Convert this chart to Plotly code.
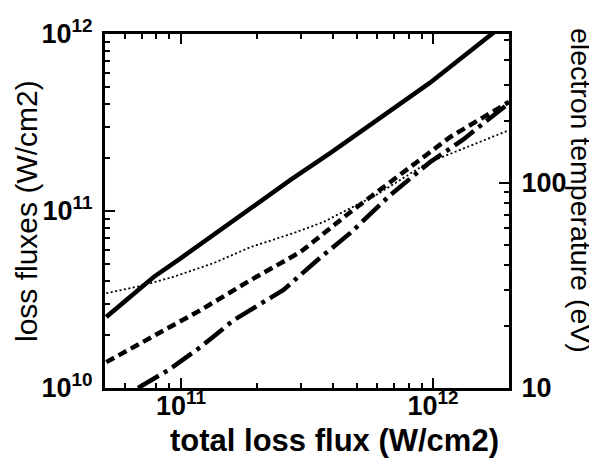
import plotly.graph_objects as go

# ---- data ----
x_solid = [5.06e10, 7.8e10, 1.0e11, 2.72e11, 3.92e11, 9.7e11, 1.8e12]
y_solid = [2.52e10, 4.24e10, 5.42e10, 1.5e11, 2.13e11, 5.29e11, 1.06e12]

x_sdash = [5.06e10, 7.6e10, 1.2e11, 1.89e11, 2.98e11, 4.7e11, 7.41e11, 1.17e12, 2.0e12]
y_sdash = [1.40e10, 1.94e10, 2.76e10, 4.07e10, 5.87e10, 9.86e10, 1.60e11, 2.62e11, 4.13e11]

x_ldash = [6.76e10, 8.9e10, 1.2e11, 1.62e11, 2.55e11, 3.48e11, 4.7e11, 6.76e11, 9.73e11, 1.31e12, 2.0e12]
y_ldash = [1.0e10, 1.26e10, 1.71e10, 2.42e10, 3.58e10, 5.29e10, 7.52e10, 1.23e11, 1.89e11, 2.52e11, 4.07e11]

x_te = [5.06e10, 6.95e10, 9.3e10, 1.17e11, 1.35e11, 1.89e11, 2.8e11, 3.67e11, 6.0e11, 9.46e11, 2.0e12]
y_te = [29.0, 31.5, 34.8, 38.5, 40.7, 48.7, 57.0, 64.5, 88.0, 125.0, 181.0]

x_ticks = [1e11, 1e12]
x_ticktext = ["10<sup>11</sup>", "10<sup>12</sup>"]
x_minor = [6e10, 7e10, 8e10, 9e10] + [k * 1e11 for k in range(2, 10)]

y_ticks = [1e10, 1e11, 1e12]
y_ticktext = ["10<sup>10</sup>", "10<sup>11</sup>", "10<sup>12</sup>"]
y_minor = [k * 1e10 for k in range(2, 10)] + [k * 1e11 for k in range(2, 10)]

y2_ticks = [10, 100]
y2_ticktext = ["10", "100"]
y2_minor = [k * 10 for k in range(2, 10)] + [k * 100 for k in range(2, 6)]

FONT = "Liberation Sans, Arial, Helvetica, sans-serif"

# page body has an 8px default margin: figure is drawn 8px right/down
OFF = 8
W, H = 597 - OFF, 462 - OFF
L, R, T, B = 105, 509, 34, 388  # plot area in page pixels
PW, PH = R - L, B - T

fig = go.Figure()
fig.add_trace(go.Scatter(x=x_solid, y=y_solid, mode="lines",
                         line=dict(color="black", width=4.5), showlegend=False))
fig.add_trace(go.Scatter(x=x_sdash, y=y_sdash, mode="lines",
                         line=dict(color="black", width=4.5, dash="9px,5px"), showlegend=False))
fig.add_trace(go.Scatter(x=x_ldash, y=y_ldash, mode="lines",
                         line=dict(color="black", width=4.5, dash="24px,6px,4px,6px"), showlegend=False))
fig.add_trace(go.Scatter(x=x_te, y=y_te, mode="lines", yaxis="y2",
                         line=dict(color="black", width=1.8, dash="2px,2.5px"), showlegend=False))

tickfont = dict(family=FONT, size=27, color="black", weight="bold")

fig.update_layout(
    width=W, height=H,
    margin=dict(l=L - OFF, r=597 - R, t=T - OFF, b=462 - B, pad=0),
    paper_bgcolor="white", plot_bgcolor="white",
    xaxis=dict(type="log", range=[10.69897, 12.30103], automargin=False,
               showline=True, linewidth=3, linecolor="black", mirror="ticks",
               ticks="inside", ticklen=10, tickwidth=2, tickcolor="black",
               tickvals=x_ticks, ticktext=x_ticktext, tickfont=tickfont,
               ticklabelstandoff=-8,
               showgrid=False, zeroline=False,
               minor=dict(tickvals=x_minor, ticks="inside", ticklen=5, tickwidth=2,
                          tickcolor="black", showgrid=False)),
    yaxis=dict(type="log", range=[10, 12], automargin=False,
               showline=True, linewidth=3, linecolor="black",
               ticks="inside", ticklen=10, tickwidth=2, tickcolor="black",
               tickvals=y_ticks, ticktext=y_ticktext, tickfont=tickfont,
               ticklabelstandoff=4,
               showgrid=False, zeroline=False,
               minor=dict(tickvals=y_minor, ticks="inside", ticklen=5, tickwidth=2,
                          tickcolor="black", showgrid=False)),
    yaxis2=dict(type="log", range=[1, 2.727], overlaying="y", side="right", automargin=False,
                showline=True, linewidth=3, linecolor="black",
                ticks="inside", ticklen=10, tickwidth=2, tickcolor="black",
                tickvals=y2_ticks, ticktext=y2_ticktext, tickfont=tickfont,
                ticklabelstandoff=4,
                showgrid=False, zeroline=False,
                minor=dict(tickvals=y2_minor, ticks="inside", ticklen=5, tickwidth=2,
                           tickcolor="black", showgrid=False)),
    annotations=[
        dict(text="total loss flux (W/cm2)", xref="paper", yref="paper",
             x=(334 - L) / PW, y=-(440 - B) / PH, showarrow=False,
             xanchor="center", yanchor="middle",
             font=dict(family=FONT, size=31, color="black", weight="bold")),
        dict(text="loss fluxes (W/cm2)", xref="paper", yref="paper",
             x=-(L - 26) / PW, y=(B - 211) / PH, showarrow=False, textangle=-90,
             xanchor="center", yanchor="middle",
             font=dict(family=FONT, size=30, color="black")),
        dict(text="electron temperature (eV)", xref="paper", yref="paper",
             x=1 + (581 - R) / PW, y=(B - 190) / PH, showarrow=False, textangle=90,
             xanchor="center", yanchor="middle",
             font=dict(family=FONT, size=28.5, color="black")),
    ],
)

fig.write_html("out.html")
